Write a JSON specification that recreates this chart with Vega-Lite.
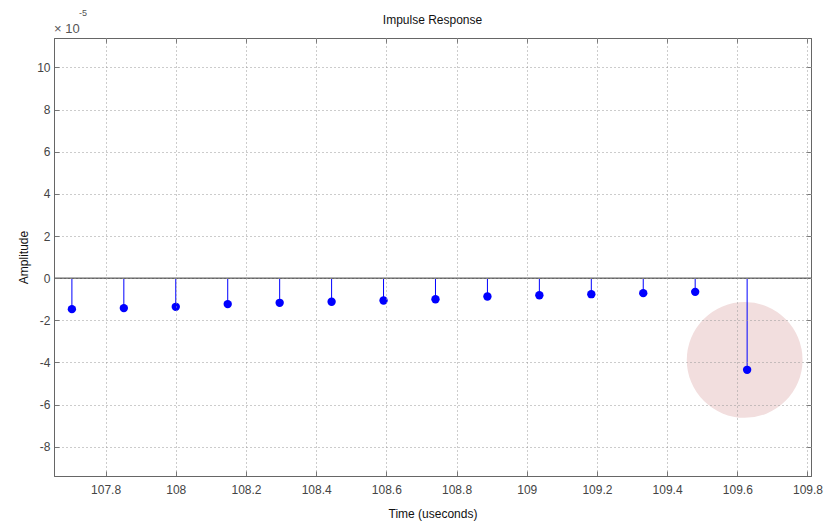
{
  "$schema": "https://vega.github.io/schema/vega-lite/v6.json",
  "width": 757,
  "height": 438,
  "autosize": {"type": "none"},
  "padding": {"left": 54, "top": 38, "right": 26, "bottom": 49},
  "background": "white",
  "config": {
    "view": {"stroke": "#666", "strokeWidth": 1},
    "font": "Liberation Sans",
    "axis": {"labelFont": "Liberation Sans", "titleFont": "Liberation Sans", "labelFontSize": 12, "titleFontSize": 12, "titleFontWeight": "normal", "labelColor": "#444444", "titleColor": "#111111"}
  },
  "title": {"text": "Impulse Response", "fontSize": 12, "fontWeight": "normal", "font": "Liberation Sans", "color": "#111", "offset": 0, "dy": 18},
  "datasets": {
    "stems": [
      {"t": 107.704, "v": -1.47},
      {"t": 107.852, "v": -1.42},
      {"t": 108.0, "v": -1.36},
      {"t": 108.148, "v": -1.23},
      {"t": 108.296, "v": -1.17},
      {"t": 108.444, "v": -1.12},
      {"t": 108.592, "v": -1.06},
      {"t": 108.74, "v": -1.0},
      {"t": 108.888, "v": -0.87},
      {"t": 109.036, "v": -0.81},
      {"t": 109.184, "v": -0.76},
      {"t": 109.332, "v": -0.71},
      {"t": 109.48, "v": -0.65},
      {"t": 109.628, "v": -4.35}
    ],
    "highlight": [{"t": 109.621, "v": -3.88}],
    "exponent": [
      {"t": 107.653, "v": 11.85, "label": "× 10", "fs": 13},
      {"t": 107.724, "v": 12.6, "label": "-5", "fs": 9}
    ]
  },
  "resolve": {"axis": {"x": "independent", "y": "independent"}},
  "layer": [
    {
      "data": {"name": "highlight"},
      "mark": {"type": "point", "filled": true, "color": "#f2dede", "opacity": 1, "size": 13400, "shape": "circle"},
      "encoding": {
        "x": {"field": "t", "type": "quantitative", "scale": {"domain": [107.653, 109.81], "nice": false, "zero": false},
          "axis": {"orient": "bottom", "values": [107.8, 108, 108.2, 108.4, 108.6, 108.8, 109, 109.2, 109.4, 109.6, 109.8], "labelExpr": "format(datum.value, '~g')", "grid": true, "gridDash": [1, 3], "gridColor": "#999", "gridOpacity": 1, "zindex": 1, "tickSize": -5, "tickColor": "#777", "domainColor": "#666", "labelPadding": 13, "title": "Time (useconds)", "titlePadding": 13}},
        "y": {"field": "v", "type": "quantitative", "scale": {"domain": [-9.39, 11.4], "nice": false, "zero": false},
          "axis": {"orient": "left", "values": [-8, -6, -4, -2, 0, 2, 4, 6, 8, 10], "labelExpr": "replace(format(datum.value, '~g'), '−', '-')", "grid": true, "gridDash": [1, 3], "gridColor": "#999", "gridOpacity": 1, "zindex": 1, "tickSize": -5, "tickColor": "#777", "domainColor": "#666", "labelPadding": 9, "title": "Amplitude", "titlePadding": 6}}
      }
    },
    {
      "data": {"name": "stems"},
      "mark": {"type": "rule", "color": "#0000ff", "strokeWidth": 1},
      "encoding": {
        "x": {"field": "t", "type": "quantitative", "axis": {"orient": "top", "values": [107.8, 108, 108.2, 108.4, 108.6, 108.8, 109, 109.2, 109.4, 109.6, 109.8], "labels": false, "grid": false, "tickSize": -5, "tickColor": "#777", "domainColor": "#666", "title": null}},
        "y": {"field": "v", "type": "quantitative", "axis": {"orient": "right", "values": [-8, -6, -4, -2, 0, 2, 4, 6, 8, 10], "labels": false, "grid": false, "tickSize": -5, "tickColor": "#777", "domainColor": "#666", "title": null}},
        "y2": {"datum": 0}
      }
    },
    {
      "data": {"values": [{"z": 0}]},
      "mark": {"type": "rule", "color": "#666", "strokeWidth": 1.5},
      "encoding": {
        "y": {"field": "z", "type": "quantitative", "axis": null}
      }
    },
    {
      "data": {"name": "stems"},
      "mark": {"type": "point", "filled": true, "color": "#0000ff", "opacity": 1, "size": 70, "shape": "circle"},
      "encoding": {
        "x": {"field": "t", "type": "quantitative", "axis": null},
        "y": {"field": "v", "type": "quantitative", "axis": null}
      }
    },
    {
      "data": {"name": "exponent"},
      "mark": {"type": "text", "align": "left", "baseline": "middle", "clip": false, "color": "#555", "font": "Liberation Sans"},
      "encoding": {
        "x": {"field": "t", "type": "quantitative", "axis": null},
        "y": {"field": "v", "type": "quantitative", "axis": null},
        "text": {"field": "label"},
        "size": {"field": "fs", "type": "quantitative", "scale": null}
      }
    }
  ]
}
